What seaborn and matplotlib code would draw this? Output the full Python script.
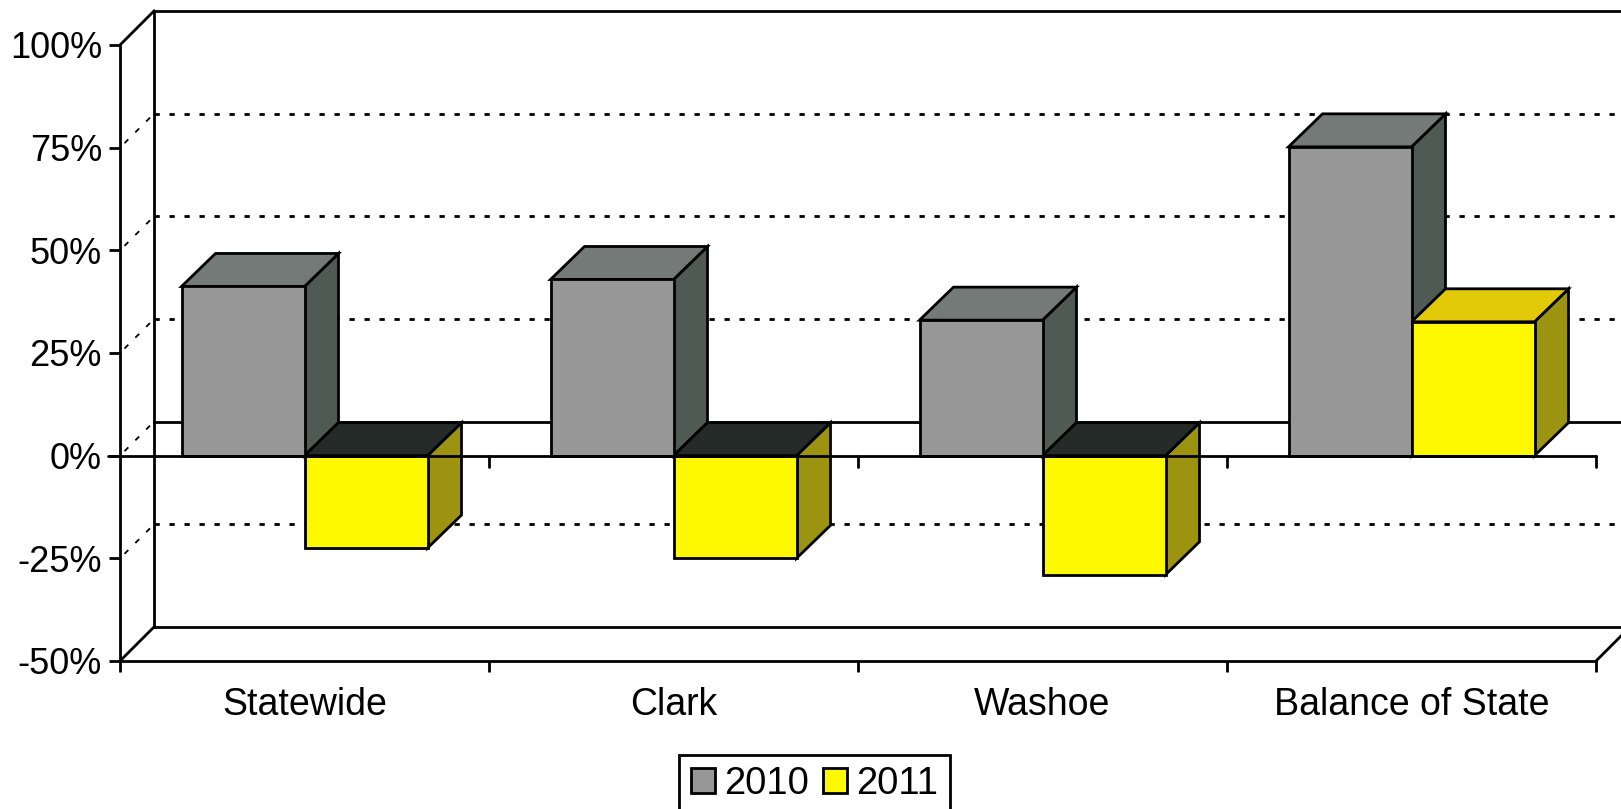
import matplotlib
matplotlib.use("Agg")
import matplotlib.pyplot as plt
import pandas as pd
import seaborn as sns
from matplotlib.patches import Polygon

# values
regions = ["Statewide", "Clark", "Washoe", "Balance of State"]
years = ["2010", "2011"]
values_2010 = [41.2, 42.9, 33.0, 75.2]
values_2011 = [-22.5, -25.0, -29.0, 32.6]
y_ticks = [-50, -25, 0, 25, 50, 75, 100]
y_tick_labels = ["-50%", "-25%", "0%", "25%", "50%", "75%", "100%"]
grid_levels = [75, 50, 25, -25]

front_colors = {"2010": "#969796", "2011": "#FFF900"}
top_colors = {"2010": "#737A78", "2011": "#E2C908"}
side_colors = {"2010": "#505A55", "2011": "#9C9410"}
under_color = "#242B28"

W, H = 1621, 809
LW = 2.0
DEPTH = 34  # px of the fake 3d depth
BAR_DEPTH_Y = 33
AX_LEFT, AX_WIDTH = 120, 1476
AX_BOTTOM, AX_HEIGHT = 661, 616

sns.set_theme(style="white")
plt.rcParams["font.family"] = ["Liberation Sans", "DejaVu Sans"]

df = pd.DataFrame({
    "region": regions * 2,
    "year": [years[0]] * 4 + [years[1]] * 4,
    "value": values_2010 + values_2011,
})

fig = plt.figure(figsize=(W / 100, H / 100), dpi=100)
ax = fig.add_axes([AX_LEFT / W, 1 - AX_BOTTOM / H, AX_WIDTH / W, AX_HEIGHT / H])
ax.patch.set_alpha(0)

sns.barplot(data=df, x="region", y="value", hue="year", order=regions, hue_order=years,
            palette=front_colors, width=2 / 3, gap=0, saturation=1, errorbar=None,
            edgecolor="black", linewidth=LW, zorder=5, ax=ax)

ax.set_xlim(-0.5, 3.5)
ax.set_ylim(-50, 100)
ax.set_xlabel("")
ax.set_ylabel("")

# depth in data units
px_x = 4 / AX_WIDTH
px_y = 150 / AX_HEIGHT
dx = DEPTH * px_x
dy = DEPTH * px_y
bar_dy = BAR_DEPTH_Y * px_y
x0, x1 = -0.5, 3.5

# back wall and floor
line = dict(color="black", lw=LW, clip_on=False, zorder=1, solid_capstyle="projecting")
ax.plot([x0 + dx, x0 + dx], [-50 + dy, 100 + dy], **line)
ax.plot([x0 + dx, x1 + dx], [100 + dy, 100 + dy], **line)
ax.plot([x0 + dx, x1 + dx], [-50 + dy, -50 + dy], **line)
ax.plot([x0 + dx, x1 + dx], [0 + dy, 0 + dy], **line)
ax.plot([x0, x0 + dx], [100, 100 + dy], **line)
ax.plot([x0, x0 + dx], [-50, -50 + dy], **line)
ax.plot([x1, x1 + dx], [-50, -50 + dy], **line)

# dotted gridlines on the wall, dashes on the side wall
for level in grid_levels:
    ax.plot([x0 + dx, x1 + dx], [level + dy, level + dy], color="black", lw=LW, clip_on=False,
            zorder=1, linestyle=(0, (1.9, 3.5)), dash_capstyle="butt")
for level in grid_levels + [0]:
    ax.plot([x0, x0 + dx], [level, level + dy], color="black", lw=1.3, clip_on=False,
            zorder=1, linestyle=(5, (3.0, 5.5)), dash_capstyle="butt")


def add_face(pts, color, z):
    ax.add_patch(Polygon(pts, closed=True, facecolor=color, edgecolor="black", lw=LW,
                         joinstyle="miter", clip_on=False, zorder=z))


# side and top faces, taken from the bars seaborn drew
for year, bars in zip(years, ax.containers):
    z = 3 if year == "2010" else 4
    for bar in bars:
        left = bar.get_x()
        right = left + bar.get_width()
        v = bar.get_height()
        low, high = min(0, v), max(0, v)
        add_face([(right, low), (right + dx, low + bar_dy), (right + dx, high + bar_dy), (right, high)],
                 side_colors[year], z)
        add_face([(left, high), (left + dx, high + bar_dy), (right + dx, high + bar_dy), (right, high)],
                 top_colors[year] if v > 0 else under_color, z)

# zero line with its ticks
ax.plot([x0 - 12 * px_x, x1], [0, 0], color="black", lw=LW, zorder=6, clip_on=False)
for boundary in [0.5, 1.5, 2.5, 3.5]:
    ax.plot([boundary, boundary], [0, -11 * px_y], color="black", lw=LW, zorder=6, clip_on=False)

# axes
sns.despine(ax=ax, top=True, right=True)
for side in ["left", "bottom"]:
    ax.spines[side].set_color("black")
    ax.spines[side].set_linewidth(LW)
ax.set_yticks(y_ticks, y_tick_labels)
ax.tick_params(axis="y", left=True, length=8, width=LW, pad=5, labelsize=26, labelcolor="black", color="black")
ax.set_xticks(range(4), regions)
ax.set_xticks([-0.5, 0.5, 1.5, 2.5, 3.5], minor=True)
ax.tick_params(axis="x", which="major", bottom=False, length=0, pad=19, labelsize=27, labelcolor="black")
ax.tick_params(axis="x", which="minor", bottom=True, length=8, width=LW, color="black")

# legend, its bottom edge falls off the page like in the scan
sns.move_legend(ax, "center", bbox_to_anchor=(814.5 / W, 1 - 784 / H), bbox_transform=fig.transFigure,
                ncol=2, title=None, fontsize=27.5, frameon=True, fancybox=False, framealpha=1,
                edgecolor="black", handlelength=0.64, handleheight=0.64, handletextpad=0.24,
                columnspacing=0.36, borderpad=0.3, borderaxespad=0)
ax.get_legend().get_frame().set_linewidth(LW)
for text in ax.get_legend().get_texts():
    text.set_color("black")

fig.savefig("out.png", dpi=100)
